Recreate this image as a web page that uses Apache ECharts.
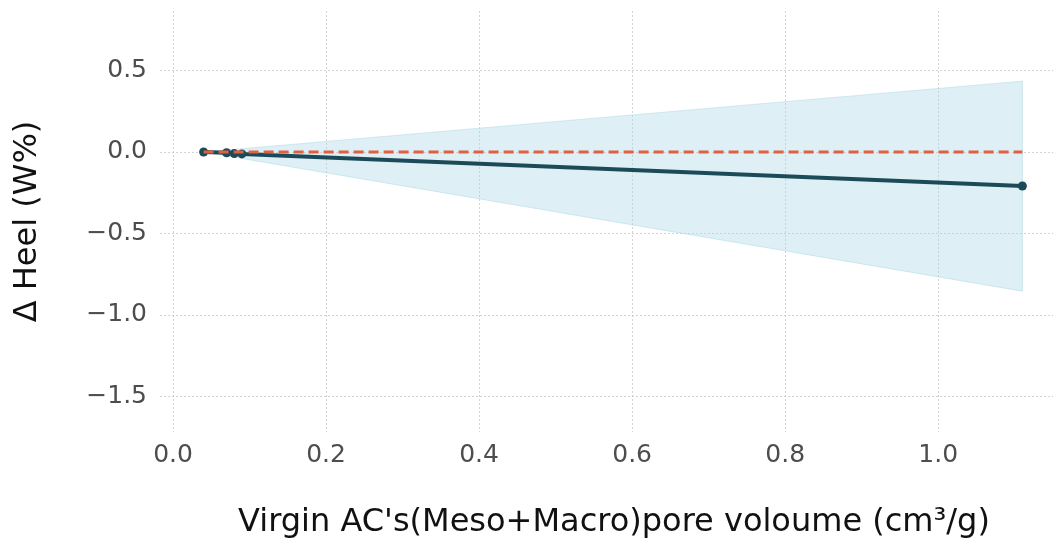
<!DOCTYPE html>
<html>
<head>
<meta charset="utf-8">
<script src="https://cdn.jsdelivr.net/npm/echarts@6/dist/echarts.min.js"></script>
<style>html,body{margin:0;padding:0;background:#fff;}#c{width:1053px;height:544px;}</style>
</head>
<body>
<div id="c"></div>
<script>
const xValues = [0.04, 0.07, 0.08, 0.09, 1.11];
const yValues = [0.0, -0.005, -0.01, -0.012, -0.209];
const bandUpper = [0.0, 0.012, 0.016, 0.020, 0.435];
const bandLower = [0.0, -0.024, -0.032, -0.040, -0.855];
const refLine = [0.0, 0.0];
const refX = [0.04, 1.11];
const xTitle = "Virgin AC's(Meso+Macro)pore voloume (cm³/g)";
const yTitle = "Δ Heel (W%)";

const FONT = "DejaVu Sans";
const chart = echarts.init(document.getElementById('c'), null, {renderer: 'canvas'});

function fmt(step) {
  return function (v) {
    const k = Math.round(v / step);
    if (Math.abs(v - k * step) > 1e-6) return '';
    const s = (k * step).toFixed(1);
    return s.replace('-', '\u2212');
  };
}

const bandData = xValues.map((x, i) => [x, bandLower[i], bandUpper[i]]);

chart.setOption({
  animation: false,
  backgroundColor: '#fff',
  grid: {left: 160, right: 0, top: 11, bottom: 112, containLabel: false},
  xAxis: {
    type: 'value', min: -0.017, max: 1.15, splitNumber: 6,
    axisLine: {show: false}, axisTick: {show: false},
    axisLabel: {formatter: fmt(0.2), fontFamily: FONT, fontSize: 25, color: '#4d4d4d', margin: 11, showMinLabel: false, showMaxLabel: false},
    splitLine: {show: true, showMinLine: false, showMaxLine: false, lineStyle: {color: '#c8c8c8', type: [2, 2], width: 0.8}},
    name: xTitle, nameLocation: 'middle', nameGap: 75,
    nameTextStyle: {fontFamily: FONT, fontSize: 32, color: '#111', padding: [0, 0, 0, 15]}
  },
  yAxis: {
    type: 'value', min: -1.72, max: 0.866, splitNumber: 5,
    axisLine: {show: false}, axisTick: {show: false},
    axisLabel: {formatter: fmt(0.5), fontFamily: FONT, fontSize: 25, color: '#4d4d4d', margin: 13, showMinLabel: false, showMaxLabel: false},
    splitLine: {show: true, showMinLine: false, showMaxLine: false, lineStyle: {color: '#c8c8c8', type: [2, 2], width: 0.8}},
    name: yTitle, nameLocation: 'middle', nameGap: 116, nameRotate: 90,
    nameTextStyle: {fontFamily: FONT, fontSize: 32, color: '#111'}
  },
  series: [
    {
      type: 'custom', z: 1, silent: true,
      data: bandData,
      encode: {x: 0, y: [1, 2]},
      renderItem: function (params, api) {
        if (params.dataIndex !== 0) return null;
        const pts = [];
        for (let i = 0; i < bandData.length; i++) pts.push(api.coord([bandData[i][0], bandData[i][2]]));
        for (let i = bandData.length - 1; i >= 0; i--) pts.push(api.coord([bandData[i][0], bandData[i][1]]));
        return {type: 'polygon', shape: {points: pts}, style: {fill: 'rgba(173,216,230,0.4)', stroke: 'rgba(173,216,230,0.5)', lineWidth: 1}};
      }
    },
    {
      type: 'line', z: 3,
      data: xValues.map((x, i) => [x, yValues[i]]),
      symbol: 'circle', symbolSize: 9,
      lineStyle: {color: '#1c4a58', width: 4},
      itemStyle: {color: '#1c4a58'}
    },
    {
      type: 'line', z: 4,
      data: refX.map((x, i) => [x, refLine[i]]),
      symbol: 'none',
      lineStyle: {color: '#e0603f', width: 2.8, type: [10, 5]}
    }
  ]
});
</script>
</body>
</html>
